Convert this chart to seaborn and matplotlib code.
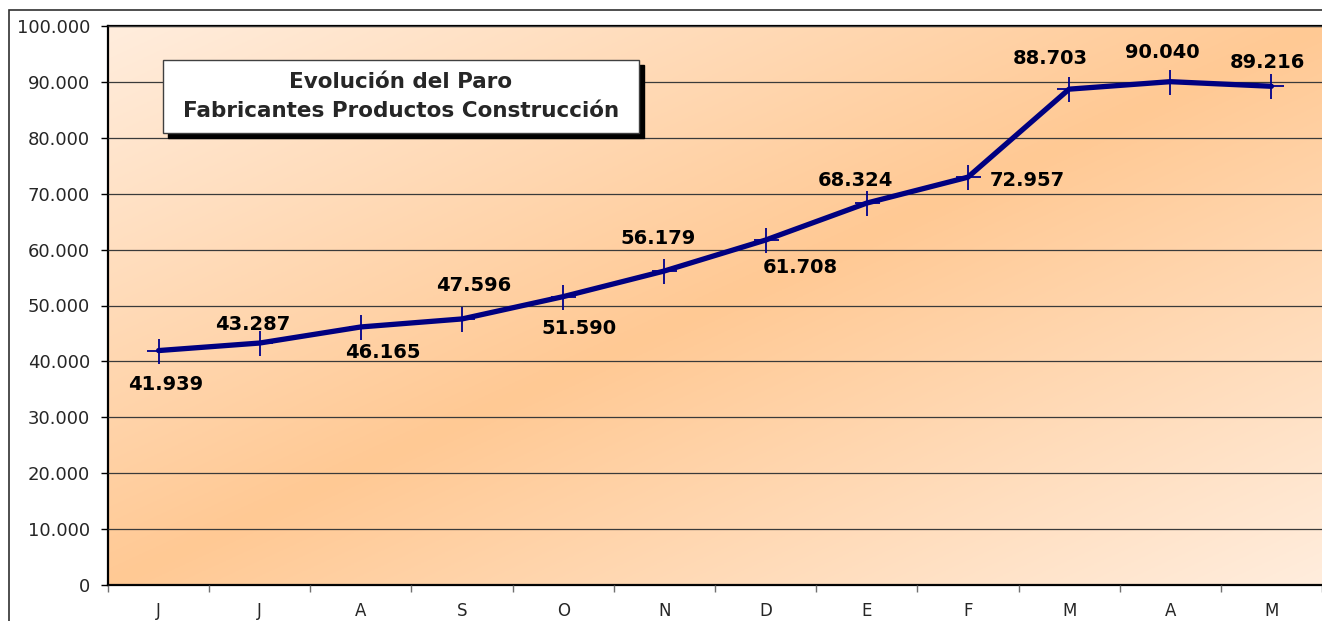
import numpy as np
import pandas as pd
import seaborn as sns
import matplotlib.pyplot as plt
from matplotlib.colors import to_rgb
from matplotlib.patches import Rectangle
from matplotlib.ticker import FuncFormatter, FixedLocator

# --- DATOS ---
meses = ["J", "J", "A", "S", "O", "N", "D", "E", "F", "M", "A", "M"]
parados = [41939, 43287, 46165, 47596, 51590, 56179, 61708, 68324, 72957, 88703, 90040, 89216]
etiquetas = ["41.939", "43.287", "46.165", "47.596", "51.590", "56.179",
             "61.708", "68.324", "72.957", "88.703", "90.040", "89.216"]

# desplazamiento de las etiquetas en pixeles (x a la derecha, y hacia arriba)
offsets = [(7, -34), (-7, 19), (22, -26), (12, 33), (16, -32), (-6, 32),
           (35, -27), (-11, 23), (59, -3), (-19, 31), (-8, 29), (-4, 24)]

df = pd.DataFrame({"pos": np.arange(len(meses)), "valor": parados})

sns.set_style("white")
plt.rcParams["font.family"] = ["DejaVu Sans"]

fig = plt.figure(figsize=(13.22, 6.21), dpi=100)
W, H = 1322, 621
ax = fig.add_axes([108 / W, 1 - 585 / H, 1 - 108 / W, (585 - 26) / H])

# borde del area del grafico
fig.patches.append(Rectangle((9 / W, -0.1), 1.2, 1 - 10 / H + 0.1, transform=fig.transFigure,
                             fill=False, edgecolor="#303030", lw=1.2, zorder=0))

# fondo degradado diagonal
claro = np.array(to_rgb("#FFEDDD"))
naranja = np.array(to_rgb("#FFC994"))
u, v = np.meshgrid(np.linspace(0, 1, 400), np.linspace(0, 1, 200))
t = np.abs((u + v) / 2 - 0.5) * 2
img = naranja[None, None, :] * (1 - t[..., None]) + claro[None, None, :] * t[..., None]
ax.imshow(img, extent=[0, 1, 0, 1], transform=ax.transAxes, aspect="auto", zorder=0, origin="upper")

sns.lineplot(data=df, x="pos", y="valor", ax=ax, color="#000080", lw=3.8,
             marker="+", markersize=18, markeredgewidth=1.3, markeredgecolor="#00008B", zorder=3)

for i, (val, txt) in enumerate(zip(parados, etiquetas)):
    dx, dy = offsets[i]
    ax.annotate(txt, (i, val), xytext=(dx * 0.72, dy * 0.72), textcoords="offset points",
                ha="center", va="center", fontsize=14, fontweight="bold", color="black", zorder=4)

ax.set_xlim(-0.5, len(meses) - 0.5)
ax.set_ylim(0, 100000)
ax.set_yticks(np.arange(0, 100001, 10000))
ax.yaxis.set_major_formatter(FuncFormatter(lambda v, p: f"{int(v):,}".replace(",", ".")))
ax.yaxis.grid(True, color="#3a3a3a", lw=0.9, zorder=1)
ax.set_axisbelow(False)

ax.xaxis.set_major_locator(FixedLocator(np.arange(-0.5, len(meses), 1.0)))
ax.xaxis.set_minor_locator(FixedLocator(np.arange(len(meses))))
ax.set_xticklabels([])
ax.set_xticklabels(meses, minor=True)
ax.tick_params(axis="x", which="major", direction="out", length=5, width=1, color="#707070", bottom=True)
ax.tick_params(axis="x", which="minor", length=0, pad=12, labelsize=12)
ax.tick_params(axis="y", direction="out", length=5, width=1, color="black", pad=8, labelsize=13, left=True)
ax.set_xlabel("")
ax.set_ylabel("")

for lado in ["left", "bottom", "top"]:
    ax.spines[lado].set_visible(True)
    ax.spines[lado].set_color("black")
    ax.spines[lado].set_linewidth(1.6)
ax.spines["right"].set_visible(False)

# caja del titulo con sombra
caja_x, caja_y, caja_w, caja_h = 163 / W, 1 - 133 / H, (639 - 163) / W, (133 - 60) / H
fig.patches.append(Rectangle((caja_x + 5 / W, caja_y - 5 / H), caja_w, caja_h, transform=fig.transFigure,
                             facecolor="black", edgecolor="black", zorder=5))
fig.patches.append(Rectangle((caja_x, caja_y), caja_w, caja_h, transform=fig.transFigure,
                             facecolor="white", edgecolor="#404040", lw=1, zorder=6))
fig.text(caja_x + caja_w / 2, caja_y + caja_h / 2, "Evolución del Paro\nFabricantes Productos Construcción",
         ha="center", va="center", fontsize=15.5, fontweight="bold", linespacing=1.55, zorder=7)

fig.savefig("out.png", dpi=100)
